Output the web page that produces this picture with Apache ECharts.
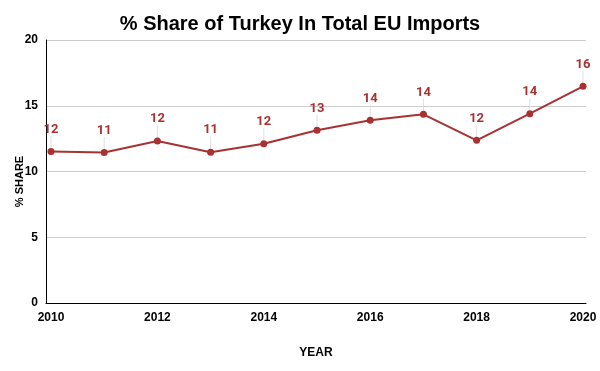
<!DOCTYPE html>
<html><head><meta charset="utf-8">
<script src="https://cdn.jsdelivr.net/npm/echarts@6/dist/echarts.min.js"></script>
<style>html,body{margin:0;padding:0;background:#fff}#c{width:600px;height:371px}</style>
</head><body><div id="c"></div>
<script>
const years = [2010,2011,2012,2013,2014,2015,2016,2017,2018,2019,2020];
const shares = [11.52,11.45,12.32,11.47,12.11,13.13,13.89,14.35,12.37,14.40,16.48];
const xTicks = [2010,2012,2014,2016,2018,2020];
const yTicks = [0,5,10,15,20];
const chart = echarts.init(document.getElementById('c'));
chart.setOption({
  animation:false,
  title:{text:'% Share of Turkey In Total EU Imports',left:'center',top:9,
    textStyle:{fontFamily:'Liberation Sans',fontWeight:'bold',fontSize:20,color:'#000'}},
  grid:{left:46,right:14,top:40,bottom:68,containLabel:false,outerBoundsMode:'none'},
  xAxis:{type:'value',min:2009.906,max:2020.056,
    name:'YEAR',nameLocation:'middle',nameGap:44,nameMoveOverlap:false,
    nameTextStyle:{fontFamily:'Liberation Sans',fontWeight:'bold',fontSize:12,color:'#000'},
    axisLine:{lineStyle:{color:'#000'}},axisTick:{show:false},splitLine:{show:false},
    axisLabel:{customValues:xTicks,formatter:v=>String(v),fontFamily:'Liberation Sans',fontWeight:'bold',fontSize:12,color:'#000',margin:9}},
  yAxis:{type:'value',min:0,max:20,interval:5,
    name:'% SHARE',nameLocation:'middle',nameGap:21,nameMoveOverlap:false,
    nameTextStyle:{fontFamily:'Liberation Sans',fontWeight:'bold',fontSize:11,color:'#000',padding:[0,20,0,0]},
    axisLine:{show:true,lineStyle:{color:'#000'}},axisTick:{show:false},
    splitLine:{lineStyle:{color:'#cccccc'}},
    axisLabel:{customValues:yTicks,fontFamily:'Liberation Sans',fontWeight:'bold',fontSize:12,color:'#000',margin:8}},
  series:[{type:'line',data:years.map((y,i)=>[y,shares[i]]),
    symbol:'circle',symbolSize:7,
    itemStyle:{color:'#a83232'},lineStyle:{color:'#a83232',width:2},
    label:{show:true,position:'top',distance:4,formatter:p=>String(Math.round(p.value[1])),
      fontFamily:'Roboto',fontWeight:'bold',fontSize:13,color:'#a83232'},
    labelLayout:{dy:-8},
    labelLine:{show:true,lineStyle:{color:'#e0e0e0',width:1}}
  }]
});
</script></body></html>
